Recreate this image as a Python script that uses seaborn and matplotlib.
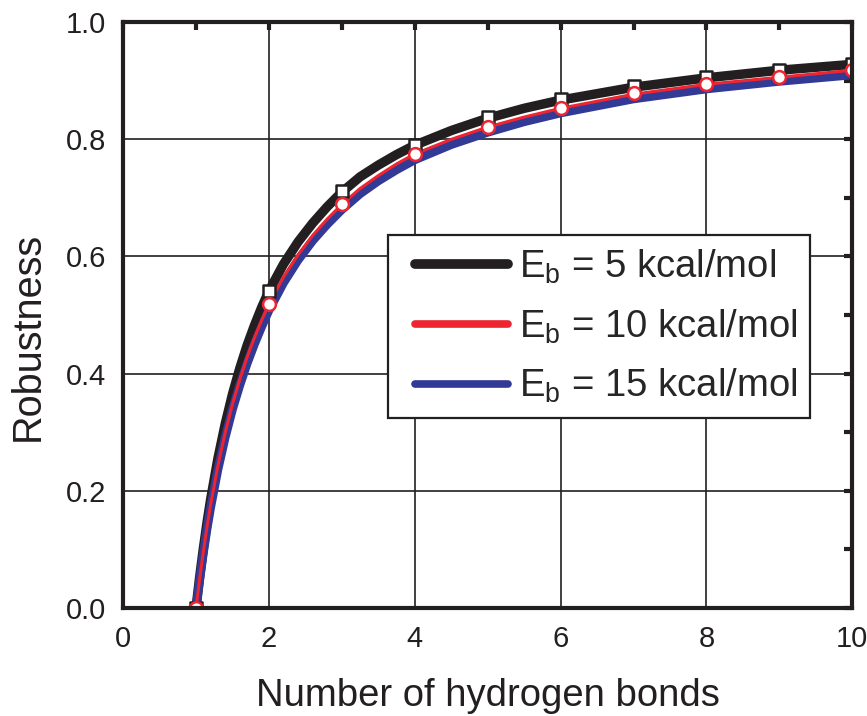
import matplotlib
matplotlib.use("Agg")
import matplotlib.pyplot as plt
from matplotlib.lines import Line2D
from matplotlib.legend_handler import HandlerLine2D
from matplotlib.ticker import MultipleLocator
import seaborn as sns
import pandas as pd

# ---- data ----
n_points = [1, 2, 3, 4, 5, 6, 7, 8, 9, 10]
eb5_points = [0.0, 0.541, 0.712, 0.790, 0.838, 0.869, 0.891, 0.906, 0.918, 0.928]
eb10_points = [0.0, 0.519, 0.689, 0.775, 0.821, 0.853, 0.879, 0.894, 0.906, 0.918]

n_curve = [1, 1.05, 1.1, 1.15, 1.2, 1.3, 1.4, 1.5, 1.6, 1.7, 1.8, 1.9, 2,
           2.2, 2.4, 2.6, 2.8, 3, 3.25, 3.5, 3.75, 4, 4.5, 5, 5.5, 6, 7, 8, 9, 10]
eb5_curve = [0.0, 0.053, 0.101, 0.145, 0.185, 0.255, 0.314, 0.365, 0.409, 0.448,
             0.482, 0.513, 0.541, 0.587, 0.625, 0.657, 0.685, 0.710, 0.736, 0.756,
             0.774, 0.790, 0.815, 0.836, 0.853, 0.867, 0.889, 0.905, 0.918, 0.928]
eb10_curve = [0.0, 0.050, 0.096, 0.138, 0.176, 0.243, 0.299, 0.348, 0.390, 0.428,
              0.461, 0.491, 0.519, 0.565, 0.603, 0.636, 0.664, 0.689, 0.716, 0.738,
              0.758, 0.775, 0.800, 0.821, 0.838, 0.853, 0.877, 0.894, 0.906, 0.918]
eb15_curve = [0.0, 0.048, 0.093, 0.134, 0.171, 0.236, 0.291, 0.339, 0.380, 0.417,
              0.450, 0.480, 0.508, 0.555, 0.594, 0.627, 0.655, 0.680, 0.707, 0.729,
              0.748, 0.765, 0.791, 0.812, 0.830, 0.845, 0.869, 0.886, 0.899, 0.910]

labels = [r"E$_\mathregular{b}$ = 5 kcal/mol",
          r"E$_\mathregular{b}$ = 10 kcal/mol",
          r"E$_\mathregular{b}$ = 15 kcal/mol"]
colors = ["#231f20", "#ed2530", "#323a96"]
x_ticks = [0, 2, 4, 6, 8, 10]
y_ticks = [0.0, 0.2, 0.4, 0.6, 0.8, 1.0]
x_label = "Number of hydrogen bonds"
y_label = "Robustness"

sns.set_style("white")
plt.rcParams["font.family"] = ["Liberation Sans", "DejaVu Sans"]
plt.rcParams["mathtext.fontset"] = "custom"
plt.rcParams["mathtext.rm"] = "Liberation Sans"
plt.rcParams["mathtext.it"] = "Liberation Sans"

fig = plt.figure(figsize=(8.67, 7.16), dpi=100)
ax = fig.add_axes([0.142, 0.151, 0.841, 0.818])

df_curve = pd.DataFrame({"n": n_curve, "eb5": eb5_curve, "eb10": eb10_curve, "eb15": eb15_curve})
df_pts = pd.DataFrame({"n": n_points, "eb5": eb5_points, "eb10": eb10_points})

sns.lineplot(data=df_curve, x="n", y="eb5", ax=ax, color=colors[0], lw=6.8, zorder=3)
sns.lineplot(data=df_curve, x="n", y="eb15", ax=ax, color=colors[2], lw=6.3, zorder=4)
sns.lineplot(data=df_curve, x="n", y="eb10", ax=ax, color=colors[1], lw=2.2, zorder=5)
sns.scatterplot(data=df_pts, x="n", y="eb5", ax=ax, marker="s", s=75,
                facecolor="white", edgecolor=colors[0], linewidth=1.8, zorder=6)
sns.scatterplot(data=df_pts, x="n", y="eb10", ax=ax, marker="o", s=85,
                facecolor="white", edgecolor=colors[1], linewidth=1.8, zorder=7)

ax.set_xlim(0, 10)
ax.set_ylim(0, 1.0)
ax.set_xticks(x_ticks)
ax.set_yticks(y_ticks)
ax.set_xticklabels([str(t) for t in x_ticks])
ax.set_yticklabels([f"{t:.1f}" for t in y_ticks])
ax.xaxis.set_minor_locator(MultipleLocator(1))
ax.yaxis.set_minor_locator(MultipleLocator(0.1))

ax.grid(True, which="major", color="#231f20", lw=1.2)
ax.set_axisbelow(True)

for s in ax.spines.values():
    s.set_linewidth(3)
    s.set_color("#231f20")
    s.set_zorder(10)

ax.tick_params(axis="x", which="major", direction="inout", length=14, width=3,
               labelsize=21, pad=5, colors="#231f20", top=False)
ax.tick_params(axis="x", which="minor", direction="inout", length=9, width=3, top=False)
ax.tick_params(axis="y", which="major", direction="out", length=8, width=3,
               labelsize=21, pad=4, colors="#231f20", right=False)
ax.tick_params(axis="y", which="minor", direction="out", length=8, width=3, right=False)

# inward ticks on top and right
ax2 = ax.secondary_xaxis("top")
ax2.set_xticks(x_ticks)
ax2.xaxis.set_minor_locator(MultipleLocator(1))
ax2.tick_params(which="both", direction="in", length=6, width=3, labeltop=False, colors="#231f20")
ax3 = ax.secondary_yaxis("right")
ax3.set_yticks(y_ticks)
ax3.yaxis.set_minor_locator(MultipleLocator(0.1))
ax3.tick_params(which="both", direction="in", length=6, width=3, labelright=False, colors="#231f20")
for a in (ax2, ax3):
    for s in a.spines.values():
        s.set_visible(False)

ax.set_xlabel(x_label, fontsize=27.5, labelpad=18, color="#231f20")
ax.set_ylabel(y_label, fontsize=28.5, labelpad=14, color="#231f20")
ax.yaxis.label.set_y(0.464)

handles = [Line2D([0], [0], color=colors[0], lw=7, solid_capstyle="round"),
           Line2D([0], [0], color=colors[1], lw=5.5, solid_capstyle="round"),
           Line2D([0], [0], color=colors[2], lw=5.5, solid_capstyle="round")]
leg = ax.legend(handles, labels, loc="upper left", bbox_to_anchor=(0.363, 0.6365),
                fontsize=27.5, frameon=True, fancybox=False, handlelength=3.2,
                handletextpad=-0.1, labelspacing=0.56, borderpad=0.33, borderaxespad=0,
                handler_map={Line2D: HandlerLine2D(marker_pad=0.38, numpoints=2)})
leg.get_frame().set_edgecolor("#231f20")
leg.get_frame().set_linewidth(1.6)
leg.get_frame().set_alpha(1)
leg.set_zorder(20)

fig.savefig("out.png", dpi=100)
